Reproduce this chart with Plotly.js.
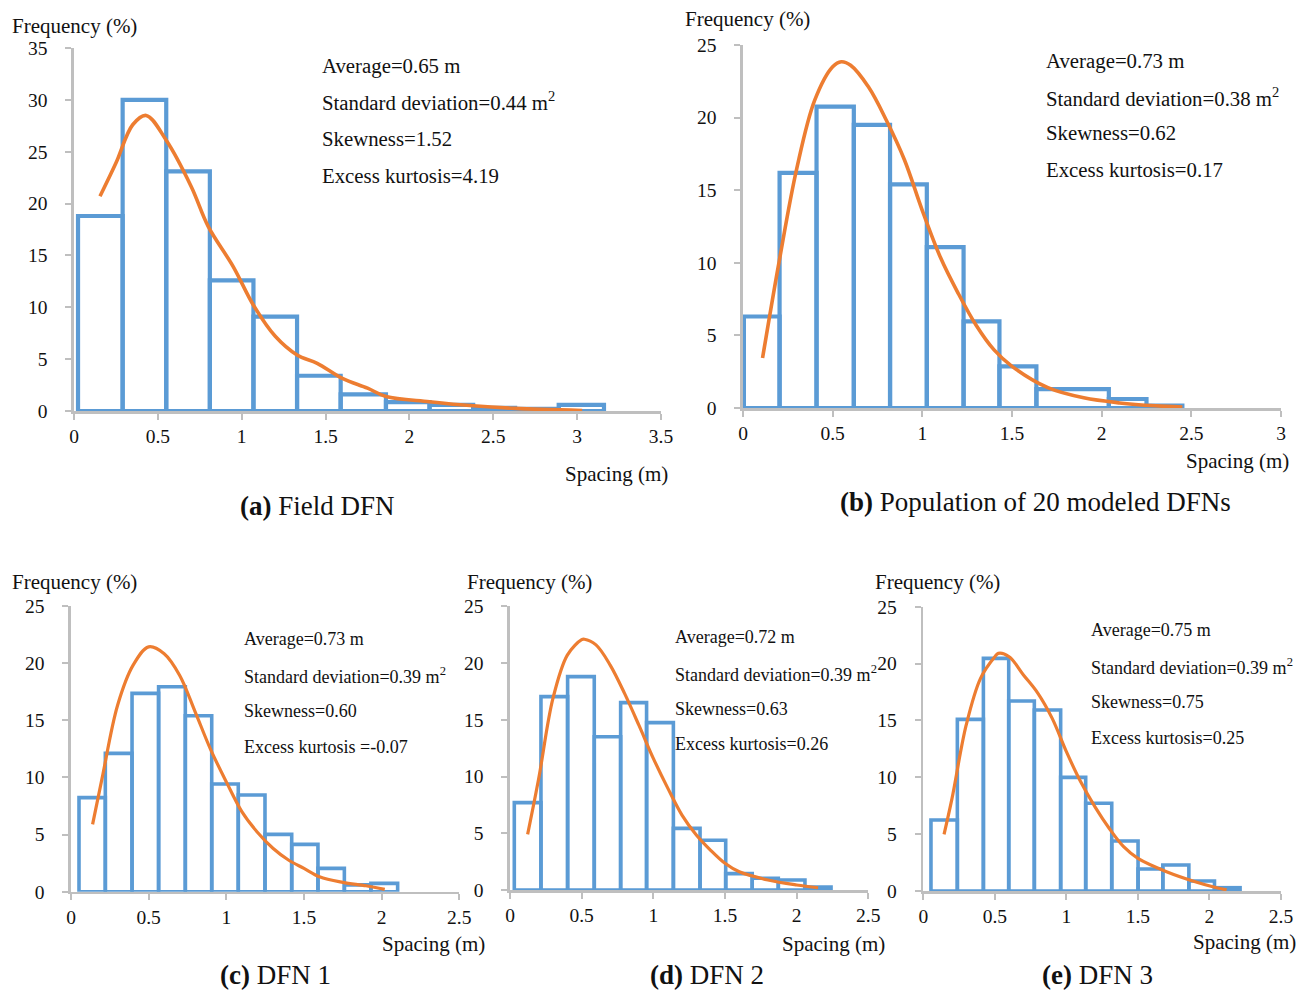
<!DOCTYPE html>
<html>
<head>
<meta charset="utf-8">
<script src="https://cdn.plot.ly/plotly-3.0.1.min.js"></script>
<style>html,body{margin:0;padding:0;background:#fff;}#chart{width:1307px;height:990px;}</style>
</head>
<body>
<div id="chart"></div>
<script>
// ---------- DATA ----------
// (a) Field DFN
const edgesA = [0.024, 0.29, 0.55, 0.81, 1.07, 1.33, 1.59, 1.86, 2.12, 2.38, 2.63, 2.89, 3.16];
const freqA  = [18.8, 30.0, 23.1, 12.6, 9.1, 3.4, 1.6, 0.85, 0.6, 0.3, 0.2, 0.6];
const curveXA = [0.155, 0.25, 0.35, 0.43, 0.55, 0.7, 0.8, 0.95, 1.07, 1.2, 1.33, 1.45, 1.6, 1.75, 1.86, 2.12, 2.38, 2.63, 3.03];
const curveYA = [20.7, 23.9, 27.6, 28.5, 26.1, 21.6, 17.8, 13.9, 10.2, 7.2, 5.4, 4.6, 3.15, 2.2, 1.4, 0.9, 0.5, 0.25, 0.05];

// (b) Population of 20 modeled DFNs
const edgesB = [0.005, 0.204, 0.41, 0.618, 0.82, 1.025, 1.23, 1.43, 1.636, 2.04, 2.25, 2.45];
const freqB  = [6.3, 16.2, 20.76, 19.5, 15.4, 11.08, 5.96, 2.87, 1.3, 0.62, 0.16];
const curveXB = [0.109, 0.2, 0.3, 0.4, 0.5, 0.548, 0.6, 0.7, 0.8, 0.9, 1.0, 1.1, 1.2, 1.3, 1.4, 1.5, 1.7, 1.9, 2.1, 2.3, 2.45];
const curveYB = [3.44, 9.98, 16.5, 21.2, 23.5, 23.85, 23.6, 22.1, 19.8, 17.1, 13.6, 10.4, 7.9, 5.7, 4.0, 2.87, 1.4, 0.7, 0.35, 0.15, 0.07];

// (c) DFN 1
const edgesC = [0.0515, 0.221, 0.393, 0.564, 0.736, 0.906, 1.077, 1.249, 1.421, 1.59, 1.76, 1.931, 2.103];
const freqC  = [8.22, 12.09, 17.34, 17.92, 15.38, 9.41, 8.45, 5.01, 4.14, 2.04, 0.6, 0.73];
const curveXC = [0.139, 0.2, 0.3, 0.4, 0.5, 0.6, 0.7, 0.8, 0.9, 1.0, 1.1, 1.2, 1.3, 1.4, 1.5, 1.6, 1.75, 1.9, 2.02];
const curveYC = [5.89, 9.9, 16.3, 19.8, 21.4, 20.8, 18.9, 15.7, 12.4, 9.6, 7.0, 5.2, 3.8, 2.77, 2.04, 1.31, 0.82, 0.52, 0.2];

// (d) DFN 2
const edgesD = [0.030, 0.216, 0.402, 0.588, 0.772, 0.953, 1.14, 1.326, 1.505, 1.69, 1.872, 2.058, 2.24];
const freqD  = [7.70, 17.04, 18.8, 13.51, 16.51, 14.75, 5.43, 4.38, 1.44, 1.03, 0.88, 0.26];
const curveXD = [0.123, 0.2, 0.3, 0.4, 0.5, 0.519, 0.6, 0.7, 0.8, 0.9, 1.0, 1.1, 1.2, 1.3, 1.4, 1.5, 1.6, 1.8, 2.0, 2.15];
const curveYD = [4.9, 9.8, 16.9, 20.7, 22.06, 22.1, 21.6, 19.8, 17.3, 14.5, 11.6, 9.0, 6.6, 4.85, 3.5, 2.35, 1.6, 0.88, 0.44, 0.2];

// (e) DFN 3
const edgesE = [0.0536, 0.238, 0.42, 0.597, 0.776, 0.96, 1.135, 1.317, 1.501, 1.674, 1.856, 2.035, 2.214];
const freqE  = [6.24, 15.09, 20.46, 16.71, 15.91, 9.99, 7.71, 4.40, 1.93, 2.29, 0.88, 0.29];
const curveXE = [0.145, 0.2, 0.3, 0.4, 0.5, 0.524, 0.6, 0.7, 0.8, 0.9, 1.0, 1.1, 1.2, 1.3, 1.4, 1.5, 1.7, 1.9, 2.05, 2.12];
const curveYE = [4.98, 8.1, 14.6, 18.7, 20.6, 20.9, 20.6, 19.0, 17.4, 15.2, 12.25, 9.6, 7.4, 5.5, 3.9, 2.87, 1.7, 0.82, 0.29, 0.1];

// Texts
const captions = ['<b>(a)</b> Field DFN', '<b>(b)</b> Population of 20 modeled DFNs', '<b>(c)</b> DFN 1', '<b>(d)</b> DFN 2', '<b>(e)</b> DFN 3'];
const statsA = ['Average=0.65 m', 'Standard deviation=0.44 m<sup>2</sup>', 'Skewness=1.52', 'Excess kurtosis=4.19'];
const statsB = ['Average=0.73 m', 'Standard deviation=0.38 m<sup>2</sup>', 'Skewness=0.62', 'Excess kurtosis=0.17'];
const statsC = ['Average=0.73 m', 'Standard deviation=0.39 m<sup>2</sup>', 'Skewness=0.60', 'Excess kurtosis =-0.07'];
const statsD = ['Average=0.72 m', 'Standard deviation=0.39 m<sup>2</sup>', 'Skewness=0.63', 'Excess kurtosis=0.26'];
const statsE = ['Average=0.75 m', 'Standard deviation=0.39 m<sup>2</sup>', 'Skewness=0.75', 'Excess kurtosis=0.25'];
const yTitle = 'Frequency (%)';
const xTitle = 'Spacing (m)';

// ---------- LAYOUT / STYLE ----------
const W = 1307, H = 990;
const px = v => v / W;
const py = v => 1 - v / H;
const FONT = 'Liberation Serif, Times New Roman, serif';
const BLUE = '#5B9BD5', ORANGE = '#ED7D31', GRAY = '#BFBFBF', TXT = '#111111';

const panels = [
  {edges: edgesA, freq: freqA, cx: curveXA, cy: curveYA, stats: statsA, xmax: 3.5, ymax: 35,
   xd: [74, 661], yd: [411, 48], statX: 320, statY: [66, 101, 138, 175], statSize: 20.8, lw: 4.2, cw: 3.6,
   yt: [10, 26], xt: [670, 474], cap: [317, 506]},
  {edges: edgesB, freq: freqB, cx: curveXB, cy: curveYB, stats: statsB, xmax: 3, ymax: 25,
   xd: [743, 1281], yd: [408, 45], statX: 1044, statY: [61, 97, 133, 169], statSize: 20.8, lw: 4.2, cw: 3.6,
   yt: [683, 19], xt: [1291, 461], cap: [1035, 502]},
  {edges: edgesC, freq: freqC, cx: curveXC, cy: curveYC, stats: statsC, xmax: 2.5, ymax: 25,
   xd: [71, 459.3], yd: [891.7, 605.7], statX: 242, statY: [639, 675, 711, 747], statSize: 18, lw: 3.6, cw: 3.2,
   yt: [10, 582], xt: [487, 944], cap: [275, 975]},
  {edges: edgesD, freq: freqD, cx: curveXD, cy: curveYD, stats: statsD, xmax: 2.5, ymax: 25,
   xd: [510, 868.3], yd: [890, 606.3], statX: 673, statY: [637, 673, 709, 744], statSize: 18, lw: 3.6, cw: 3.2,
   yt: [465, 582], xt: [887, 944], cap: [707, 975]},
  {edges: edgesE, freq: freqE, cx: curveXE, cy: curveYE, stats: statsE, xmax: 2.5, ymax: 25,
   xd: [923.3, 1281], yd: [891, 606.7], statX: 1089, statY: [630, 666, 702, 738], statSize: 18, lw: 3.6, cw: 3.2,
   yt: [873, 582], xt: [1298, 942], cap: [1097, 975]}
];

const traces = [];
const layout = {
  width: W, height: H, margin: {l: 0, r: 0, t: 0, b: 0},
  paper_bgcolor: '#fff', plot_bgcolor: 'rgba(0,0,0,0)',
  showlegend: false, bargap: 0, barmode: 'overlay',
  font: {family: FONT, color: TXT, size: 19},
  annotations: []
};

panels.forEach((p, i) => {
  const n = i + 1;
  const xa = 'x' + (n === 1 ? '' : n), ya = 'y' + (n === 1 ? '' : n);
  const widths = p.freq.map((_, k) => p.edges[k + 1] - p.edges[k]);
  traces.push({
    type: 'bar', x: p.edges.slice(0, p.freq.length), y: p.freq, width: widths, offset: 0,
    xaxis: xa, yaxis: ya,
    marker: {color: 'rgba(255,255,255,0)', line: {color: BLUE, width: p.lw}},
    hoverinfo: 'x+y'
  });
  traces.push({
    type: 'scatter', mode: 'lines', x: p.cx, y: p.cy, xaxis: xa, yaxis: ya,
    line: {color: ORANGE, width: p.cw, shape: 'spline', smoothing: 1}
  });
  const axBase = {
    showgrid: false, zeroline: false, showline: true, linecolor: GRAY, linewidth: 2.6,
    ticks: 'outside', ticklen: 6, tickwidth: 2, tickcolor: GRAY,
    tickfont: {family: FONT, size: 19.5, color: TXT}
  };
  layout['xaxis' + (n === 1 ? '' : n)] = Object.assign({}, axBase, {
    domain: [px(p.xd[0]), px(p.xd[1])], range: [0, p.xmax], dtick: 0.5, tick0: 0,
    anchor: ya, ticklabelstandoff: 0
  });
  layout['yaxis' + (n === 1 ? '' : n)] = Object.assign({}, axBase, {
    domain: [py(p.yd[0]), py(p.yd[1])], range: [0, p.ymax], dtick: 5, tick0: 0,
    anchor: xa, ticklabelstandoff: 14
  });
  p.stats.forEach((s, k) => {
    layout.annotations.push({
      xref: 'paper', yref: 'paper', x: px(p.statX), y: py(p.statY[k]),
      xanchor: 'left', yanchor: 'middle', showarrow: false, text: s,
      font: {family: FONT, size: p.statSize, color: TXT}
    });
  });
  layout.annotations.push({
    xref: 'paper', yref: 'paper', x: px(p.yt[0]), y: py(p.yt[1]),
    xanchor: 'left', yanchor: 'middle', showarrow: false, text: yTitle,
    font: {family: FONT, size: 21, color: TXT}
  });
  layout.annotations.push({
    xref: 'paper', yref: 'paper', x: px(p.xt[0]), y: py(p.xt[1]),
    xanchor: 'right', yanchor: 'middle', showarrow: false, text: xTitle,
    font: {family: FONT, size: 21, color: TXT}
  });
  layout.annotations.push({
    xref: 'paper', yref: 'paper', x: px(p.cap[0]), y: py(p.cap[1]),
    xanchor: 'center', yanchor: 'middle', showarrow: false, text: captions[i],
    font: {family: FONT, size: 27, color: TXT}
  });
});

Plotly.newPlot('chart', traces, layout, {displayModeBar: false, staticPlot: true});
</script>
</body>
</html>
